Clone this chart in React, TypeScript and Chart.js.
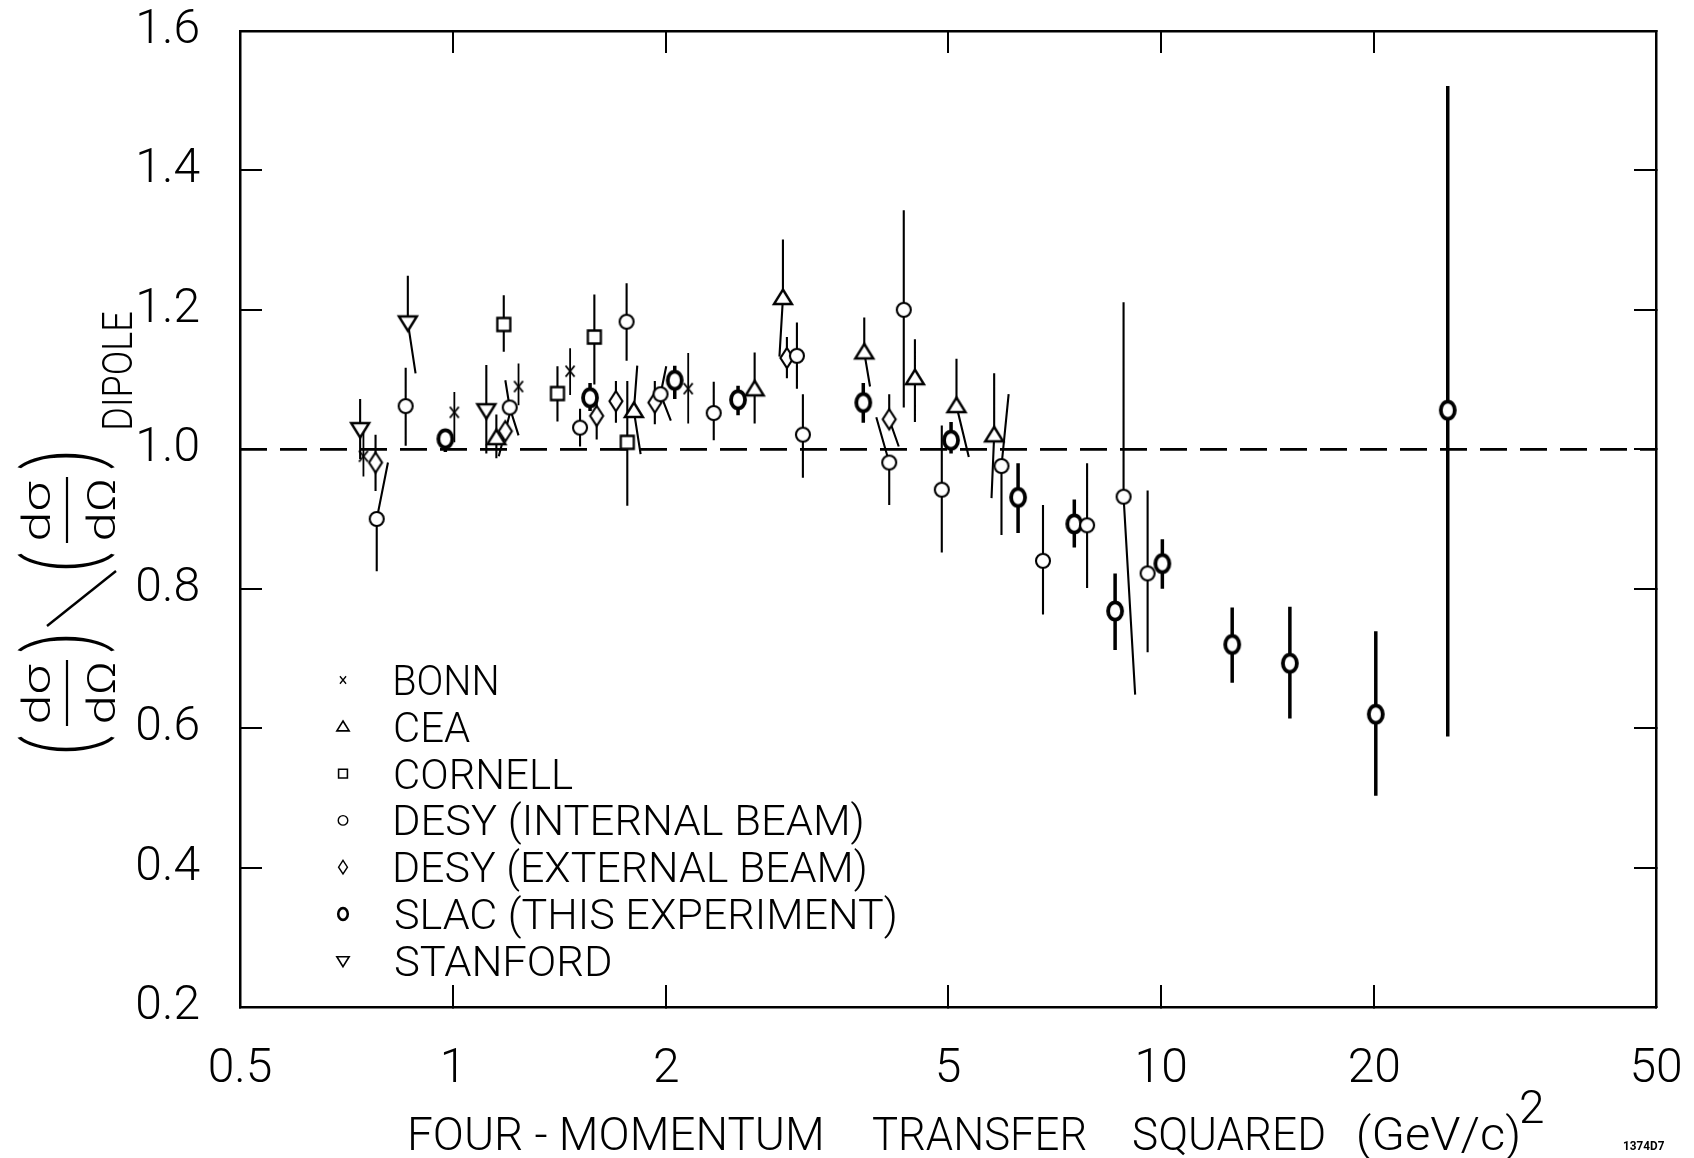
import React, { useEffect, useRef } from 'react';
import { Chart, registerables } from 'chart.js';

Chart.register(...registerables);

// ---------------- axis ticks ----------------
const xTickValues = [0.5, 1, 2, 5, 10, 20, 50];
const xTickLabels = ['0.5', '1', '2', '5', '10', '20', '50'];
const xInnerTicks = [1, 2, 5, 10, 20];
const yTickValues = [0.2, 0.4, 0.6, 0.8, 1.0, 1.2, 1.4, 1.6];
const yTickLabels = ['0.2', '0.4', '0.6', '0.8', '1.0', '1.2', '1.4', '1.6'];

// ---------------- dipole reference line ----------------
const dipoleQ2 = [0.5, 50];
const dipoleRatio = [1.0, 1.0];

// ---------------- BONN ----------------
const bonnQ2 = [0.747, 1.004, 1.237, 1.463, 2.148];
const bonnRatio = [0.99, 1.053, 1.09, 1.112, 1.087];
const bonnLow = [0.961, 1.01, 1.063, 1.078, 1.037];
const bonnHigh = [1.026, 1.082, 1.123, 1.145, 1.138];

// ---------------- CEA ----------------
const ceaQ2 = [1.151, 1.8, 2.666, 2.923, 3.808, 4.49, 5.14, 5.81];
const ceaRatio = [1.016, 1.055, 1.086, 1.217, 1.139, 1.102, 1.062, 1.02];
const ceaLow = [0.987, 0.993, 1.037, 1.133, 1.09, 1.039, 0.989, 0.93];
const ceaHigh = [1.05, 1.12, 1.139, 1.301, 1.189, 1.158, 1.13, 1.109];
const ceaLowQ2 = [1.151, 1.84, 2.666, 2.89, 3.88, 4.49, 5.35, 5.76];
const ceaHighQ2 = [1.151, 1.82, 2.666, 2.923, 3.808, 4.49, 5.14, 5.81];

// ---------------- CORNELL ----------------
const cornellQ2 = [1.179, 1.404, 1.583, 1.762];
const cornellRatio = [1.179, 1.08, 1.161, 1.01];
const cornellLow = [1.14, 1.04, 1.093, 0.919];
const cornellHigh = [1.221, 1.119, 1.222, 1.098];

// ---------------- DESY (internal beam) ----------------
const desyIntQ2 = [0.78, 0.857, 1.202, 1.511, 1.758, 1.963, 2.334, 3.059, 3.119, 4.13, 4.33, 4.9, 5.95, 6.81, 7.86, 8.85, 9.57];
const desyIntRatio = [0.9, 1.062, 1.06, 1.031, 1.183, 1.079, 1.052, 1.134, 1.021, 0.981, 1.2, 0.942, 0.976, 0.84, 0.891, 0.932, 0.822];
const desyIntLow = [0.825, 1.005, 1.02, 1.004, 1.127, 1.041, 1.013, 1.087, 0.959, 0.92, 1.06, 0.852, 0.877, 0.763, 0.801, 0.648, 0.709];
const desyIntHigh = [0.981, 1.117, 1.099, 1.058, 1.238, 1.119, 1.097, 1.182, 1.079, 1.046, 1.343, 1.034, 1.079, 0.92, 0.98, 1.211, 0.941];
const desyIntLowQ2 = [0.78, 0.857, 1.237, 1.511, 1.758, 2.03, 2.334, 3.059, 3.119, 4.13, 4.33, 4.9, 5.95, 6.81, 7.86, 9.19, 9.57];
const desyIntHighQ2 = [0.809, 0.857, 1.185, 1.511, 1.758, 2.0, 2.334, 3.059, 3.119, 3.96, 4.33, 4.9, 6.09, 6.81, 7.86, 8.85, 9.57];

// ---------------- DESY (external beam) ----------------
const desyExtQ2 = [0.777, 1.185, 1.595, 1.698, 1.927, 2.961, 4.13];
const desyExtRatio = [0.981, 1.026, 1.048, 1.069, 1.067, 1.131, 1.043];
const desyExtLow = [0.94, 0.99, 1.014, 1.038, 1.036, 1.102, 1.004];
const desyExtHigh = [1.021, 1.062, 1.071, 1.098, 1.098, 1.161, 1.079];
const desyExtLowQ2 = [0.777, 1.16, 1.595, 1.698, 1.927, 2.961, 4.26];
const desyExtHighQ2 = [0.777, 1.21, 1.595, 1.698, 1.927, 2.961, 4.13];

// ---------------- SLAC (this experiment) ----------------
const slacQ2 = [0.975, 1.561, 2.056, 2.526, 3.796, 5.05, 6.28, 7.54, 8.61, 10.04, 12.6, 15.2, 20.1, 25.4];
const slacRatio = [1.015, 1.074, 1.099, 1.071, 1.067, 1.013, 0.931, 0.893, 0.768, 0.836, 0.72, 0.693, 0.62, 1.056];
const slacLow = [0.996, 1.055, 1.072, 1.049, 1.038, 0.994, 0.88, 0.859, 0.712, 0.8, 0.665, 0.614, 0.503, 0.588];
const slacHigh = [1.029, 1.095, 1.12, 1.091, 1.095, 1.039, 0.98, 0.928, 0.822, 0.871, 0.773, 0.774, 0.739, 1.521];

// ---------------- STANFORD ----------------
const stanfordQ2 = [0.739, 0.863, 1.114];
const stanfordRatio = [1.029, 1.182, 1.056];
const stanfordLow = [0.986, 1.109, 0.994];
const stanfordHigh = [1.072, 1.249, 1.121];
const stanfordLowQ2 = [0.739, 0.885, 1.114];

// ---------------- text ----------------
const legendLabels = [
  'BONN',
  'CEA',
  'CORNELL',
  'DESY (INTERNAL BEAM)',
  'DESY (EXTERNAL BEAM)',
  'SLAC (THIS EXPERIMENT)',
  'STANFORD',
];
const xTitleWords = ['FOUR - MOMENTUM', 'TRANSFER', 'SQUARED', '(GeV/c)'];
const xTitleSup = '2';
const figureId = '1374D7';

// ---------------- layout (pixels) ----------------
const W = 1694;
const H = 1158;
const AREA = { left: 240, top: 31, right: 1656, bottom: 1007 };
const FONT = 'Roboto';
const legendSymbolX = 343;
const legendTextX = 395;
const legendTop = 680;
const legendStep = 46.8;
const legendInkWidths = [102, 75, 178, 467, 470, 500, 215];
const xTitleLefts = [411, 873, 1134, 1359];
const xTitleInk = [410, 213, 190, 159];

type Kind = 'bonn' | 'cea' | 'cornell' | 'desyInt' | 'desyExt' | 'slac' | 'stanford';

function shape(ctx: CanvasRenderingContext2D, kind: Kind, cx: number, cy: number, s: number) {
  ctx.save();
  ctx.translate(cx, cy);
  ctx.scale(s, s);
  ctx.strokeStyle = '#000';
  ctx.fillStyle = '#fff';
  ctx.lineJoin = 'miter';
  ctx.beginPath();
  switch (kind) {
    case 'bonn':
      ctx.lineWidth = 1.9;
      ctx.moveTo(-4.5, -5.5); ctx.lineTo(4.5, 5.5);
      ctx.moveTo(4.5, -5.5); ctx.lineTo(-4.5, 5.5);
      ctx.stroke();
      break;
    case 'cea':
      ctx.lineWidth = 2.4;
      ctx.moveTo(0, -8.5); ctx.lineTo(9, 6); ctx.lineTo(-9, 6); ctx.closePath();
      ctx.fill(); ctx.stroke();
      break;
    case 'stanford':
      ctx.lineWidth = 2.4;
      ctx.moveTo(0, 8.5); ctx.lineTo(9, -6); ctx.lineTo(-9, -6); ctx.closePath();
      ctx.fill(); ctx.stroke();
      break;
    case 'cornell':
      ctx.lineWidth = 2.3;
      ctx.rect(-6.5, -6.5, 13, 13);
      ctx.fill(); ctx.stroke();
      break;
    case 'desyInt':
      ctx.lineWidth = 2.1;
      ctx.arc(0, 0, 7, 0, Math.PI * 2);
      ctx.fill(); ctx.stroke();
      break;
    case 'desyExt':
      ctx.lineWidth = 2.1;
      ctx.moveTo(0, -10); ctx.lineTo(6.5, 0); ctx.lineTo(0, 10); ctx.lineTo(-6.5, 0); ctx.closePath();
      ctx.fill(); ctx.stroke();
      break;
    case 'slac':
      ctx.lineWidth = 3.8;
      ctx.ellipse(0, 0, 7, 8.6, 0, 0, Math.PI * 2);
      ctx.fill(); ctx.stroke();
      break;
  }
  ctx.restore();
}

function makeMarker(kind: Kind): HTMLCanvasElement {
  const c = document.createElement('canvas');
  c.width = 28;
  c.height = 28;
  const ctx = c.getContext('2d')!;
  shape(ctx, kind, 14, 14, 1);
  return c;
}

function drawFit(ctx: CanvasRenderingContext2D, text: string, left: number, baseline: number, font: string, inkW: number) {
  ctx.save();
  ctx.font = font;
  ctx.textAlign = 'left';
  ctx.textBaseline = 'alphabetic';
  const m = ctx.measureText(text);
  const w = m.actualBoundingBoxLeft + m.actualBoundingBoxRight;
  ctx.translate(left, baseline);
  ctx.scale(inkW / w, 1);
  ctx.fillText(text, m.actualBoundingBoxLeft, 0);
  ctx.restore();
}

// Rotated (reading bottom-to-top) text whose ink box is centred on (cx, cy).
function drawRot(ctx: CanvasRenderingContext2D, text: string, cx: number, cy: number, font: string, len?: number, thick?: number) {
  ctx.save();
  ctx.font = font;
  ctx.textAlign = 'left';
  ctx.textBaseline = 'alphabetic';
  const m = ctx.measureText(text);
  const w = m.actualBoundingBoxLeft + m.actualBoundingBoxRight;
  const h = m.actualBoundingBoxAscent + m.actualBoundingBoxDescent;
  ctx.translate(cx, cy);
  ctx.rotate(-Math.PI / 2);
  ctx.scale(len ? len / w : 1, thick ? thick / h : 1);
  const icx = (m.actualBoundingBoxRight - m.actualBoundingBoxLeft) / 2;
  const icy = (m.actualBoundingBoxDescent - m.actualBoundingBoxAscent) / 2;
  ctx.fillText(text, -icx, -icy);
  ctx.restore();
}

const legendKinds: Kind[] = ['bonn', 'cea', 'cornell', 'desyInt', 'desyExt', 'slac', 'stanford'];

const decorPlugin = {
  id: 'decor',
  afterDraw(chart: any) {
    const ctx: CanvasRenderingContext2D = chart.ctx;
    ctx.save();
    ctx.fillStyle = '#000';
    ctx.strokeStyle = '#000';

    // legend
    legendLabels.forEach((label, i) => {
      const cy = legendTop + i * legendStep;
      shape(ctx, legendKinds[i], legendSymbolX, cy, 0.68);
      drawFit(ctx, label, legendTextX, cy + 15, `300 42px ${FONT}`, legendInkWidths[i]);
    });

    // x-axis title
    xTitleWords.forEach((w, i) => {
      drawFit(ctx, w, xTitleLefts[i], 1150, `300 46px ${FONT}`, xTitleInk[i]);
    });
    drawFit(ctx, xTitleSup, 1521, 1123, `300 46px ${FONT}`, 22);

    // y-axis title: (dσ/dΩ) / (dσ/dΩ)_DIPOLE, rotated
    const f = `300 44px ${FONT}`;
    const pf = `300 90px ${FONT}`;
    const groups = [693, 510];
    groups.forEach((gc) => {
      drawRot(ctx, 'dσ', 35, gc, f, 58, 30);
      drawRot(ctx, 'dΩ', 100, gc, f, 58, 30);
      ctx.beginPath();
      ctx.lineWidth = 2.2;
      ctx.moveTo(67, gc - 33);
      ctx.lineTo(67, gc + 33);
      ctx.stroke();
      drawRot(ctx, '(', 66, gc + 51, pf, 15, 98);
      drawRot(ctx, ')', 66, gc - 49, pf, 15, 98);
    });
    ctx.beginPath();
    ctx.lineWidth = 2.4;
    ctx.moveTo(47, 626);
    ctx.lineTo(116, 571);
    ctx.stroke();
    drawRot(ctx, 'DIPOLE', 116, 370, `300 40px ${FONT}`, 116, 31);

    // figure id
    drawFit(ctx, figureId, 1624, 1150, `bold 13px ${FONT}`, 40);

    ctx.restore();
  },
};

function labelFor(values: number[], labels: string[], v: number): string {
  const i = values.findIndex((t) => Math.abs(t - v) < 1e-6);
  return i >= 0 ? labels[i] : '';
}

export default function App() {
  const ref = useRef<HTMLCanvasElement>(null);

  useEffect(() => {
    const canvas = ref.current;
    if (!canvas) return;

    const series = [
      { label: 'BONN', kind: 'bonn' as Kind, q2: bonnQ2, r: bonnRatio, lo: bonnLow, hi: bonnHigh, loQ2: bonnQ2, hiQ2: bonnQ2, bw: 1.8 },
      { label: 'CEA', kind: 'cea' as Kind, q2: ceaQ2, r: ceaRatio, lo: ceaLow, hi: ceaHigh, loQ2: ceaLowQ2, hiQ2: ceaHighQ2, bw: 2.1 },
      { label: 'CORNELL', kind: 'cornell' as Kind, q2: cornellQ2, r: cornellRatio, lo: cornellLow, hi: cornellHigh, loQ2: cornellQ2, hiQ2: cornellQ2, bw: 2.1 },
      { label: 'DESY (INTERNAL BEAM)', kind: 'desyInt' as Kind, q2: desyIntQ2, r: desyIntRatio, lo: desyIntLow, hi: desyIntHigh, loQ2: desyIntLowQ2, hiQ2: desyIntHighQ2, bw: 2.1 },
      { label: 'DESY (EXTERNAL BEAM)', kind: 'desyExt' as Kind, q2: desyExtQ2, r: desyExtRatio, lo: desyExtLow, hi: desyExtHigh, loQ2: desyExtLowQ2, hiQ2: desyExtHighQ2, bw: 2.1 },
      { label: 'SLAC (THIS EXPERIMENT)', kind: 'slac' as Kind, q2: slacQ2, r: slacRatio, lo: slacLow, hi: slacHigh, loQ2: slacQ2, hiQ2: slacQ2, bw: 3.5 },
      { label: 'STANFORD', kind: 'stanford' as Kind, q2: stanfordQ2, r: stanfordRatio, lo: stanfordLow, hi: stanfordHigh, loQ2: stanfordLowQ2, hiQ2: stanfordQ2, bw: 2.1 },
    ];

    const datasets: any[] = [];
    series.forEach((s) => {
      datasets.push({
        type: 'scatter',
        label: s.label,
        data: s.q2.map((q, i) => ({ x: q, y: s.r[i] })),
        pointStyle: makeMarker(s.kind),
        pointRadius: 8,
        pointHoverRadius: 8,
        order: 0,
      });
    });
    series.forEach((s) => {
      const pts: any[] = [];
      s.q2.forEach((q, i) => {
        pts.push({ x: s.loQ2[i], y: s.lo[i] });
        pts.push({ x: q, y: s.r[i] });
        pts.push({ x: s.hiQ2[i], y: s.hi[i] });
        pts.push({ x: s.hiQ2[i], y: null });
      });
      datasets.push({
        type: 'line',
        label: s.label + ' error',
        data: pts,
        borderColor: '#000',
        borderWidth: s.bw,
        pointRadius: 0,
        spanGaps: false,
        fill: false,
        tension: 0,
        order: 1,
      });
    });
    datasets.push({
      type: 'line',
      label: 'Dipole',
      data: dipoleQ2.map((q, i) => ({ x: q, y: dipoleRatio[i] })),
      borderColor: '#000',
      borderWidth: 2.8,
      borderDash: [27, 13],
      pointRadius: 0,
      fill: false,
      order: 2,
    });

    const tickFont = { family: FONT, size: 48, weight: '300' as any };
    const gridCommon = { drawOnChartArea: false, drawTicks: true, tickLength: -22, color: '#000', lineWidth: 2 };
    const borderCommon = { display: true, color: '#000', width: 2.5 };

    const chart = new Chart(canvas, {
      type: 'scatter',
      data: { datasets },
      plugins: [decorPlugin],
      options: {
        responsive: false,
        animation: false,
        events: [],
        layout: { padding: 0, autoPadding: false },
        plugins: {
          legend: { display: false },
          tooltip: { enabled: false },
          title: { display: false },
        },
        scales: {
          x: {
            type: 'logarithmic',
            position: 'bottom',
            min: 0.5,
            max: 50,
            bounds: 'data',
            afterBuildTicks: (a: any) => { a.ticks = xTickValues.map((v) => ({ value: v })); },
            afterFit: (a: any) => {
              a.height = H - AREA.bottom;
              a.paddingLeft = 0;
              a.paddingRight = 0;
            },
            ticks: {
              callback: (v: any) => labelFor(xTickValues, xTickLabels, Number(v)),
              font: tickFont,
              color: '#000',
              padding: 56,
              autoSkip: false,
              maxRotation: 0,
              minRotation: 0,
            },
            grid: gridCommon,
            border: borderCommon,
          },
          x2: {
            axis: 'x',
            type: 'logarithmic',
            position: 'top',
            min: 0.5,
            max: 50,
            bounds: 'data',
            afterBuildTicks: (a: any) => { a.ticks = xInnerTicks.map((v) => ({ value: v })); },
            afterFit: (a: any) => {
              a.height = AREA.top;
              a.paddingLeft = 0;
              a.paddingRight = 0;
            },
            ticks: { display: false },
            grid: gridCommon,
            border: borderCommon,
          },
          y: {
            type: 'linear',
            position: 'left',
            min: 0.2,
            max: 1.6,
            afterBuildTicks: (a: any) => { a.ticks = yTickValues.map((v) => ({ value: v })); },
            afterFit: (a: any) => {
              a.width = AREA.left;
              a.paddingTop = 0;
              a.paddingBottom = 0;
            },
            ticks: {
              callback: (v: any) => labelFor(yTickValues, yTickLabels, Number(v)),
              font: tickFont,
              color: '#000',
              padding: 62,
            },
            grid: gridCommon,
            border: borderCommon,
          },
          y2: {
            axis: 'y',
            type: 'linear',
            position: 'right',
            min: 0.2,
            max: 1.6,
            afterBuildTicks: (a: any) => { a.ticks = yTickValues.map((v) => ({ value: v })); },
            afterFit: (a: any) => {
              a.width = W - AREA.right;
              a.paddingTop = 0;
              a.paddingBottom = 0;
            },
            ticks: { display: false },
            grid: gridCommon,
            border: borderCommon,
          },
        },
      } as any,
    });

    return () => {
      chart.destroy();
    };
  }, []);

  return (
    <div style={{ position: 'absolute', left: 0, top: 0, width: W, height: H, background: '#fff' }}>
      <canvas ref={ref} width={W} height={H} style={{ display: 'block', width: W, height: H }} />
    </div>
  );
}
